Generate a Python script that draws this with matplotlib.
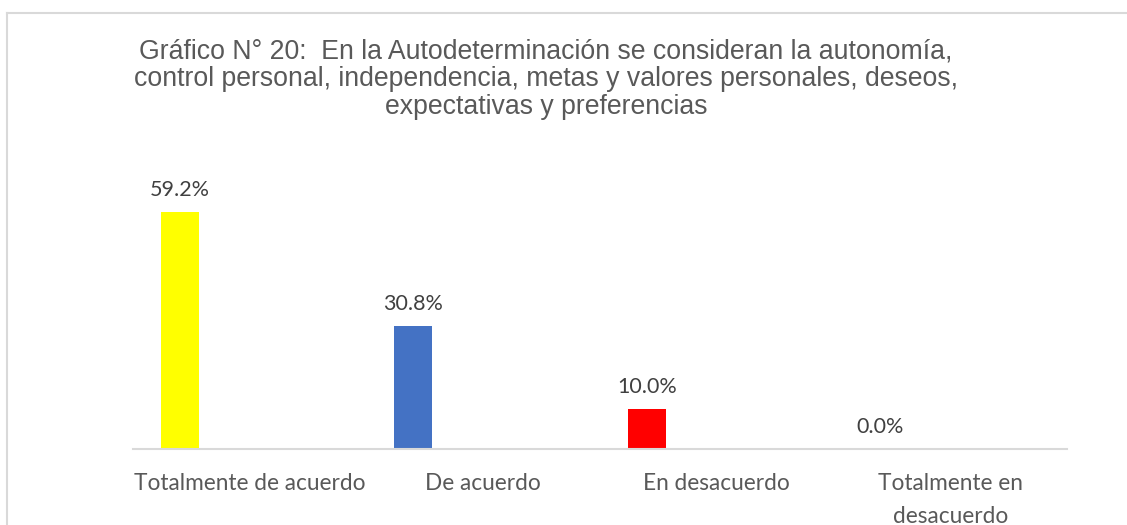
import matplotlib
matplotlib.use("Agg")
import matplotlib.pyplot as plt
from matplotlib.lines import Line2D

categories = ["Totalmente de acuerdo", "De acuerdo", "En desacuerdo", "Totalmente en\ndesacuerdo"]
values = [0.592, 0.308, 0.100, 0.0]
labels = ["59.2%", "30.8%", "10.0%", "0.0%"]
colors = ["#FFFF00", "#4472C4", "#FF0000", "#A5A5A5"]
title = ("Gráfico N° 20:  En la Autodeterminación se consideran la autonomía,\n"
         "control personal, independencia, metas y valores personales, deseos,\n"
         "expectativas y preferencias")


def main():
    W, H = 1127, 525
    fig = plt.figure(figsize=(W / 100, H / 100), dpi=100)

    # chart area border (only top and left visible)
    grey = "#D9D9D9"
    fig.add_artist(Line2D([6.5 / W, 1.0], [1 - 13 / H, 1 - 13 / H], transform=fig.transFigure, color=grey, lw=1.5))
    fig.add_artist(Line2D([6.5 / W, 6.5 / W], [0, 1 - 13 / H], transform=fig.transFigure, color=grey, lw=1.5))

    fig.text(546 / W, 1 - 114 / H, title, ha="center", va="baseline", fontsize=19.2,
             family="Liberation Sans", color="#595959", linespacing=1.08)

    left, right, base = 133, 1067, 449
    ax = fig.add_axes([left / W, (H - base) / H, (right - left) / W, 280 / H])
    x = list(range(len(categories)))
    offset = -0.30
    bars = ax.bar([i + offset for i in x], values, width=0.163, color=colors)
    ax.set_xlim(-0.5, len(categories) - 0.5)
    ax.set_ylim(0, 0.70)

    for b, lab in zip(bars, labels):
        ax.annotate(lab, (b.get_x() + b.get_width() / 2, b.get_height()), xytext=(0, 16),
                    textcoords="offset pixels", ha="center", va="baseline",
                    fontsize=15.5, family="Lato", color="#404040")

    ax.set_xticks(x)
    ax.set_xticklabels(categories, fontsize=16.3, family="Lato", color="#595959", linespacing=1.7)
    ax.tick_params(axis="x", length=0, pad=17)
    ax.set_yticks([])
    for s in ["top", "left", "right"]:
        ax.spines[s].set_visible(False)
    ax.spines["bottom"].set_color(grey)
    ax.spines["bottom"].set_linewidth(1.5)

    fig.savefig("out.png", dpi=100)


if __name__ == "__main__":
    main()
